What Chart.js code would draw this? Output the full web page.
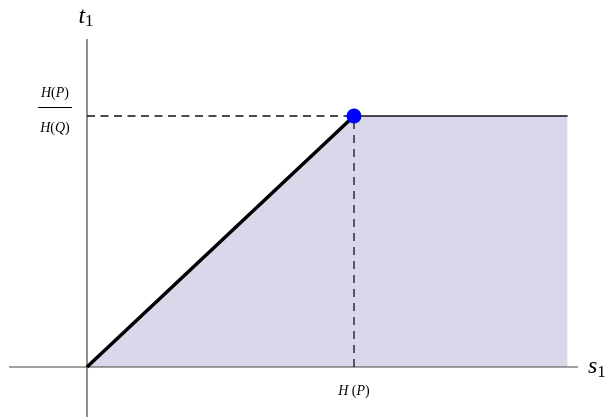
<!DOCTYPE html>
<html>
<head>
<meta charset="utf-8">
<script src="https://cdn.jsdelivr.net/npm/chart.js@4/dist/chart.umd.min.js"></script>
<style>
  html, body { margin: 0; padding: 0; background: #fff; }
  #region { display: block; }
</style>
</head>
<body>
<canvas id="region" width="606" height="417"></canvas>
<script>
// Feasible region boundary: rises from the origin to the corner, then stays flat
const boundaryS = [0, 1, 1.8];
const boundaryT = [0, 1, 1];
// Corner point (H(P), H(P)/H(Q)), both normalised to 1
const cornerS = [1];
const cornerT = [1];
// Axis extents (data units)
const axisS = [-0.292, 1.839];
const axisT = [-0.2, 1.307];
// Tick labels
const sTickLabels = ["H", " (", "P", ")"];
const tTickTop = ["H", "(", "P", ")"];
const tTickBottom = ["H", "(", "Q", ")"];
const axisNames = ["s", "t"];

const toPts = (xs, ys) => xs.map((x, i) => ({ x: x, y: ys[i] }));
const SERIF = "'Liberation Serif', 'Times New Roman', serif";

// Draw a run of text pieces: [text, italic, size, dy]
function drawRich(ctx, parts, x, y, align) {
  let total = 0;
  const widths = parts.map(p => {
    ctx.font = (p[1] ? "italic " : "") + p[2] + "px " + SERIF;
    const w = ctx.measureText(p[0]).width;
    total += w;
    return w;
  });
  let cx = align === "center" ? x - total / 2 : x;
  parts.forEach((p, i) => {
    ctx.font = (p[1] ? "italic " : "") + p[2] + "px " + SERIF;
    ctx.fillText(p[0], cx, y + (p[3] || 0));
    cx += widths[i];
  });
}

// odd pieces are upright brackets, even pieces italic letters
const mathParts = (arr, size) => arr.map((t, i) => [t, i % 2 === 0, size]);

const labelPlugin = {
  id: "labels",
  afterDatasetsDraw(chart) {
    const ctx = chart.ctx;
    const xs = chart.scales.x, ys = chart.scales.y;
    ctx.save();
    ctx.fillStyle = "#000";
    ctx.textBaseline = "alphabetic";
    ctx.textAlign = "left";

    // axis names
    drawRich(ctx, [[axisNames[1], true, 24], ["1", false, 17, 3]],
      xs.getPixelForValue(0) - 1, ys.getPixelForValue(axisT[1]) - 16, "center");
    drawRich(ctx, [[axisNames[0], true, 24], ["1", false, 17, 4]],
      xs.getPixelForValue(axisS[1]) + 10, ys.getPixelForValue(0) + 6, "left");

    // s tick label
    drawRich(ctx, mathParts(sTickLabels, 14),
      xs.getPixelForValue(cornerS[0]), ys.getPixelForValue(0) + 28, "center");

    // t tick label as a fraction
    const fx = xs.getPixelForValue(0) - 32;
    const fy = Math.round(ys.getPixelForValue(cornerT[0]) - 9);
    drawRich(ctx, mathParts(tTickTop, 14), fx, fy - 10, "center");
    drawRich(ctx, mathParts(tTickBottom, 14), fx, fy + 25, "center");
    ctx.strokeStyle = "#000";
    ctx.lineWidth = 1;
    ctx.beginPath();
    ctx.moveTo(fx - 17, fy + 0.5);
    ctx.lineTo(fx + 17, fy + 0.5);
    ctx.stroke();
    ctx.restore();
  }
};

new Chart("region", {
  type: "line",
  data: {
    datasets: [
      {
        // shaded region under the boundary
        data: toPts(boundaryS, boundaryT),
        fill: "origin",
        backgroundColor: "rgb(217,216,234)",
        borderWidth: 0,
        pointRadius: 0,
        tension: 0,
        order: 9
      },
      {
        // axes
        data: [{ x: axisS[0], y: 0 }, { x: axisS[1], y: 0 }],
        borderColor: "#444",
        borderWidth: 1.2,
        pointRadius: 0,
        order: 8
      },
      {
        data: [{ x: 0, y: axisT[0] }, { x: 0, y: axisT[1] }],
        borderColor: "#444",
        borderWidth: 1.2,
        pointRadius: 0,
        order: 7
      },
      {
        // dashed guides to the corner
        data: [{ x: 0, y: cornerT[0] }, { x: cornerS[0], y: cornerT[0] }],
        borderColor: "#111",
        borderWidth: 1.3,
        borderDash: [8, 5.5],
        pointRadius: 0,
        order: 6
      },
      {
        data: [{ x: cornerS[0], y: 0 }, { x: cornerS[0], y: cornerT[0] }],
        borderColor: "#111",
        borderWidth: 1.3,
        borderDash: [8, 6],
        pointRadius: 0,
        order: 5
      },
      {
        // flat top edge
        data: toPts(boundaryS.slice(1), boundaryT.slice(1)),
        borderColor: "#111",
        borderWidth: 1.4,
        pointRadius: 0,
        order: 4
      },
      {
        // rising edge
        data: toPts(boundaryS.slice(0, 2), boundaryT.slice(0, 2)),
        borderColor: "#000",
        borderWidth: 3.5,
        pointRadius: 0,
        order: 3
      },
      {
        data: toPts(cornerS, cornerT),
        showLine: false,
        pointRadius: 7.5,
        pointBackgroundColor: "#0000ff",
        pointBorderWidth: 0,
        order: 1
      }
    ]
  },
  options: {
    responsive: false,
    animation: false,
    layout: { padding: 0, autoPadding: false },
    plugins: { legend: { display: false }, tooltip: { enabled: false } },
    scales: {
      x: { type: "linear", display: false, min: -0.3258, max: 1.9438 },
      y: { type: "linear", display: false, min: -0.1992, max: 1.4622 }
    }
  },
  plugins: [labelPlugin]
});
</script>
</body>
</html>
